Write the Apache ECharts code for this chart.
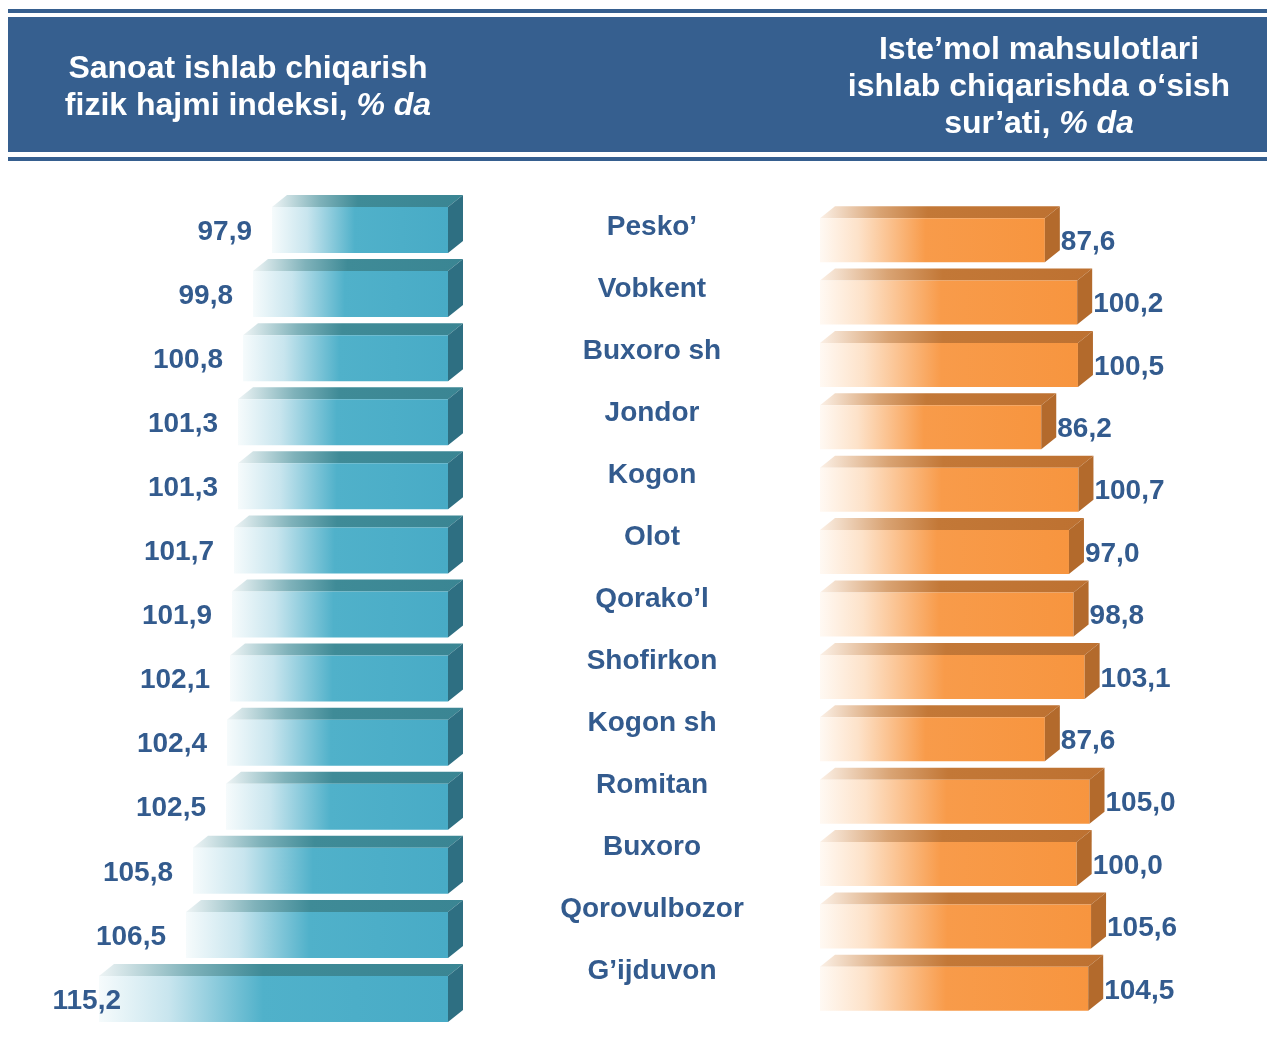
<!DOCTYPE html>
<html>
<head>
<meta charset="utf-8">
<script src="https://cdn.jsdelivr.net/npm/echarts@6/dist/echarts.min.js"></script>
<style>
  html, body { margin: 0; padding: 0; background: #fff; }
  #chart { width: 1267px; height: 1054px; }
</style>
</head>
<body>
<div id="chart"></div>
<script>
// districts (middle column) and the two sets of bars
const districts = ["Pesko’", "Vobkent", "Buxoro sh", "Jondor", "Kogon", "Olot", "Qorako’l",
  "Shofirkon", "Kogon sh", "Romitan", "Buxoro", "Qorovulbozor", "G’ijduvon"];
const industryIndex = [97.9, 99.8, 100.8, 101.3, 101.3, 101.7, 101.9, 102.1, 102.4, 102.5, 105.8, 106.5, 115.2];
const consumerGrowth = [87.6, 100.2, 100.5, 86.2, 100.7, 97.0, 98.8, 103.1, 87.6, 105.0, 100.0, 105.6, 104.5];

const leftTitle = "Sanoat ishlab chiqarish\nfizik hajmi indeksi, {i|% da}";
const rightTitle = "Iste’mol mahsulotlari\nishlab chiqarishda o‘sish\nsur’ati, {i|% da}";

const FONT = "'Liberation Sans', Arial, sans-serif";
const BLUE = "#335b8e";
const LEFT_MIN = 80.3;

const fmt = v => v.toFixed(1).replace(".", ",");

function lg(stops) {
  return new echarts.graphic.LinearGradient(0, 0, 1, 0,
    stops.map(s => ({ offset: s[0], color: s[1] })));
}

function bar3d(xl, xr, yc, h, c) {
  const dx = 15, dy = 12;
  const yt = yc - h / 2, yb = yc + h / 2;
  return [
    { type: "polygon", shape: { points: [[xl, yt], [xl + dx, yt - dy], [xr + dx, yt - dy], [xr, yt]] },
      style: { fill: lg(c.top) } },
    { type: "rect", shape: { x: xl, y: yt, width: xr - xl, height: h },
      style: { fill: lg(c.front) } },
    { type: "polygon", shape: { points: [[xr, yt], [xr + dx, yt - dy], [xr + dx, yb - dy], [xr, yb]] },
      style: { fill: c.side } }
  ];
}

const blueColors = {
  front: [[0, "#f6fbfc"], [0.2, "#c8e5ee"], [0.47, "#50b1ca"], [1, "#48abc6"]],
  top: [[0, "#eef4f5"], [0.25, "#7fb2ba"], [0.45, "#3f8b97"], [1, "#3a8593"]],
  side: "#2e6f82"
};
const orangeColors = {
  front: [[0, "#fff9f3"], [0.17, "#fde2c9"], [0.47, "#f89b4a"], [1, "#f7953f"]],
  top: [[0, "#fbf0e6"], [0.25, "#d9a373"], [0.45, "#c37837"], [1, "#bd7131"]],
  side: "#b36a2c"
};

function renderLeft(params, api) {
  const v = api.value(0), i = api.value(1);
  const end = api.coord([v, i]);
  const base = api.coord([LEFT_MIN, i]);
  const children = bar3d(end[0], base[0], end[1], 46, blueColors);
  children.push({
    type: "text",
    style: { text: fmt(v), x: Math.max(end[0] - 20, 121), y: end[1] + 2, align: "right", verticalAlign: "middle",
      font: "bold 28px " + FONT, fill: BLUE }
  });
  return { type: "group", children: children };
}

function renderRight(params, api) {
  const v = api.value(0), i = api.value(1);
  const end = api.coord([v, i]);
  const base = api.coord([0, i]);
  const children = bar3d(base[0], end[0], end[1], 44, orangeColors);
  children.push({
    type: "text",
    style: { text: fmt(v), x: end[0] + 16, y: end[1] + 2, align: "left", verticalAlign: "middle",
      font: "bold 28px " + FONT, fill: BLUE }
  });
  return { type: "group", children: children };
}

const chart = echarts.init(document.getElementById("chart"));

const titleStyle = {
  fill: "#fff", font: "bold 32px " + FONT, align: "center", verticalAlign: "middle",
  lineHeight: 37, rich: { i: { fontStyle: "italic", fontWeight: "bold", fontSize: 32, fontFamily: FONT, fill: "#fff", lineHeight: 37 } }
};

const option = {
  animation: false,
  graphic: [
    { type: "rect", shape: { x: 8, y: 9, width: 1259, height: 4 }, style: { fill: "#365f8f" } },
    { type: "rect", shape: { x: 8, y: 17, width: 1259, height: 135 }, style: { fill: "#365f8f" } },
    { type: "rect", shape: { x: 8, y: 157, width: 1259, height: 4 }, style: { fill: "#365f8f" } },
    { type: "text", x: 248, y: 88, style: Object.assign({ text: leftTitle }, titleStyle) },
    { type: "text", x: 1039, y: 87, style: Object.assign({ text: rightTitle }, titleStyle) }
  ],
  grid: [
    { left: 48, width: 400, top: 198, height: 833 },
    { left: 652, width: 1, top: 196, height: 806 },
    { left: 820, width: 385, top: 209, height: 811 }
  ],
  xAxis: [
    { gridIndex: 0, type: "value", inverse: true, min: LEFT_MIN, max: LEFT_MIN + 40, show: false },
    { gridIndex: 1, type: "value", min: 0, max: 1, show: false },
    { gridIndex: 2, type: "value", min: 0, max: 150, show: false }
  ],
  yAxis: [
    { gridIndex: 0, type: "category", inverse: true, data: districts, show: false },
    { gridIndex: 1, type: "category", inverse: true, data: districts,
      axisLine: { show: false }, axisTick: { show: false },
      axisLabel: { align: "center", margin: 0, fontFamily: FONT, fontWeight: "bold", fontSize: 28, color: BLUE } },
    { gridIndex: 2, type: "category", inverse: true, data: districts, show: false }
  ],
  series: [
    { type: "custom", xAxisIndex: 0, yAxisIndex: 0, renderItem: renderLeft,
      data: industryIndex.map((v, i) => [v, i]) },
    { type: "custom", xAxisIndex: 2, yAxisIndex: 2, renderItem: renderRight,
      data: consumerGrowth.map((v, i) => [v, i]) }
  ]
};

chart.setOption(option);
</script>
</body>
</html>
